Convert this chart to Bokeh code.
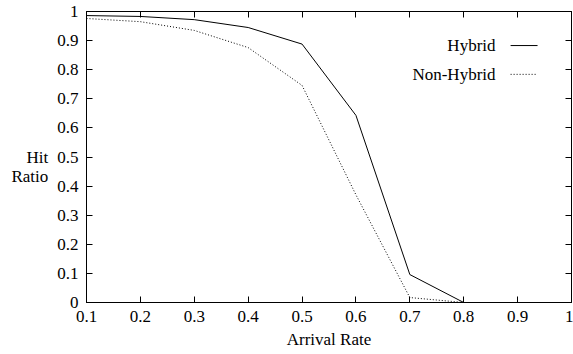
from bokeh.plotting import figure
from bokeh.models import Range1d, FixedTicker, LinearAxis, Label
from bokeh.embed import file_html
from bokeh.resources import INLINE

# ---- data ----
arrival_rate = [0.1, 0.2, 0.3, 0.4, 0.5, 0.6, 0.7, 0.8, 0.9, 1.0]
hybrid = [0.986, 0.983, 0.972, 0.945, 0.888, 0.643, 0.096, 0.0, 0.0, 0.0]
non_hybrid = [0.976, 0.965, 0.935, 0.876, 0.746, 0.37, 0.017, 0.0, 0.0, 0.0]
x_ticks = [0.1, 0.2, 0.3, 0.4, 0.5, 0.6, 0.7, 0.8, 0.9, 1.0]
x_tick_labels = ["0.1", "0.2", "0.3", "0.4", "0.5", "0.6", "0.7", "0.8", "0.9", "1"]
y_ticks = [0.0, 0.1, 0.2, 0.3, 0.4, 0.5, 0.6, 0.7, 0.8, 0.9, 1.0]
y_tick_labels = ["0", "0.1", "0.2", "0.3", "0.4", "0.5", "0.6", "0.7", "0.8", "0.9", "1"]
series_names = ["Hybrid", "Non-Hybrid"]

FONT = "Liberation Serif"
FS = "17px"

p = figure(width=573, height=354, output_backend="svg", toolbar_location=None,
           x_range=Range1d(0.1, 1.0), y_range=Range1d(0.0, 1.0),
           min_border_left=86, min_border_right=2, min_border_top=11, min_border_bottom=52)
p.background_fill_color = "white"
p.border_fill_color = "white"
p.outline_line_color = "black"
p.grid.visible = False

def style_axis(ax, show_labels):
    ax.axis_line_color = "black"
    ax.major_tick_line_color = "black"
    ax.major_tick_in = 6
    ax.major_tick_out = 0
    ax.minor_tick_line_color = None
    ax.major_label_text_font = FONT
    ax.major_label_text_color = "black"
    ax.major_label_text_font_size = FS
    ax.major_label_standoff = 8 if show_labels else 0

xa = p.xaxis[0]
ya = p.yaxis[0]
xa.ticker = FixedTicker(ticks=x_ticks)
ya.ticker = FixedTicker(ticks=y_ticks)
xa.major_label_overrides = {t: s for t, s in zip(x_ticks, x_tick_labels)}
ya.major_label_overrides = {t: s for t, s in zip(y_ticks, y_tick_labels)}
style_axis(xa, True)
style_axis(ya, True)
xa.axis_label = "Arrival Rate"
xa.axis_label_text_font = FONT
xa.axis_label_text_font_size = FS
xa.axis_label_text_font_style = "normal"
xa.axis_label_text_color = "black"
xa.axis_label_standoff = 5

ya.axis_label = "\nHit\nRatio"
ya.axis_label_text_font = FONT
ya.axis_label_text_font_size = FS
ya.axis_label_text_font_style = "normal"
ya.axis_label_text_color = "black"
ya.axis_label_text_line_height = 1.05
ya.axis_label_standoff = 6
try:
    ya.axis_label_orientation = "horizontal"
except Exception:
    pass

top = LinearAxis(ticker=FixedTicker(ticks=x_ticks),
                 major_label_overrides={t: "" for t in x_ticks})
right = LinearAxis(ticker=FixedTicker(ticks=y_ticks),
                   major_label_overrides={t: "" for t in y_ticks})
style_axis(top, False)
style_axis(right, False)
p.add_layout(top, "above")
p.add_layout(right, "right")

p.line(arrival_rate, hybrid, line_color="black", line_width=1)
p.line(arrival_rate, non_hybrid, line_color="black", line_width=1, line_dash="1 2")

# gnuplot-style key (text on the left, sample on the right)
key_text_x = 0.859
key_x0, key_x1 = 0.887, 0.937
key_y = [0.883, 0.784]
dashes = ["solid", "1 2"]
for name, ky, dash in zip(series_names, key_y, dashes):
    p.add_layout(Label(x=key_text_x, y=ky, text=name, text_font=FONT, text_font_size=FS,
                       text_color="black", text_align="right", text_baseline="middle"))
    p.line([key_x0, key_x1], [ky, ky], line_color="black", line_width=1, line_dash=dash)

open("out.html", "w").write(file_html(p, INLINE))
